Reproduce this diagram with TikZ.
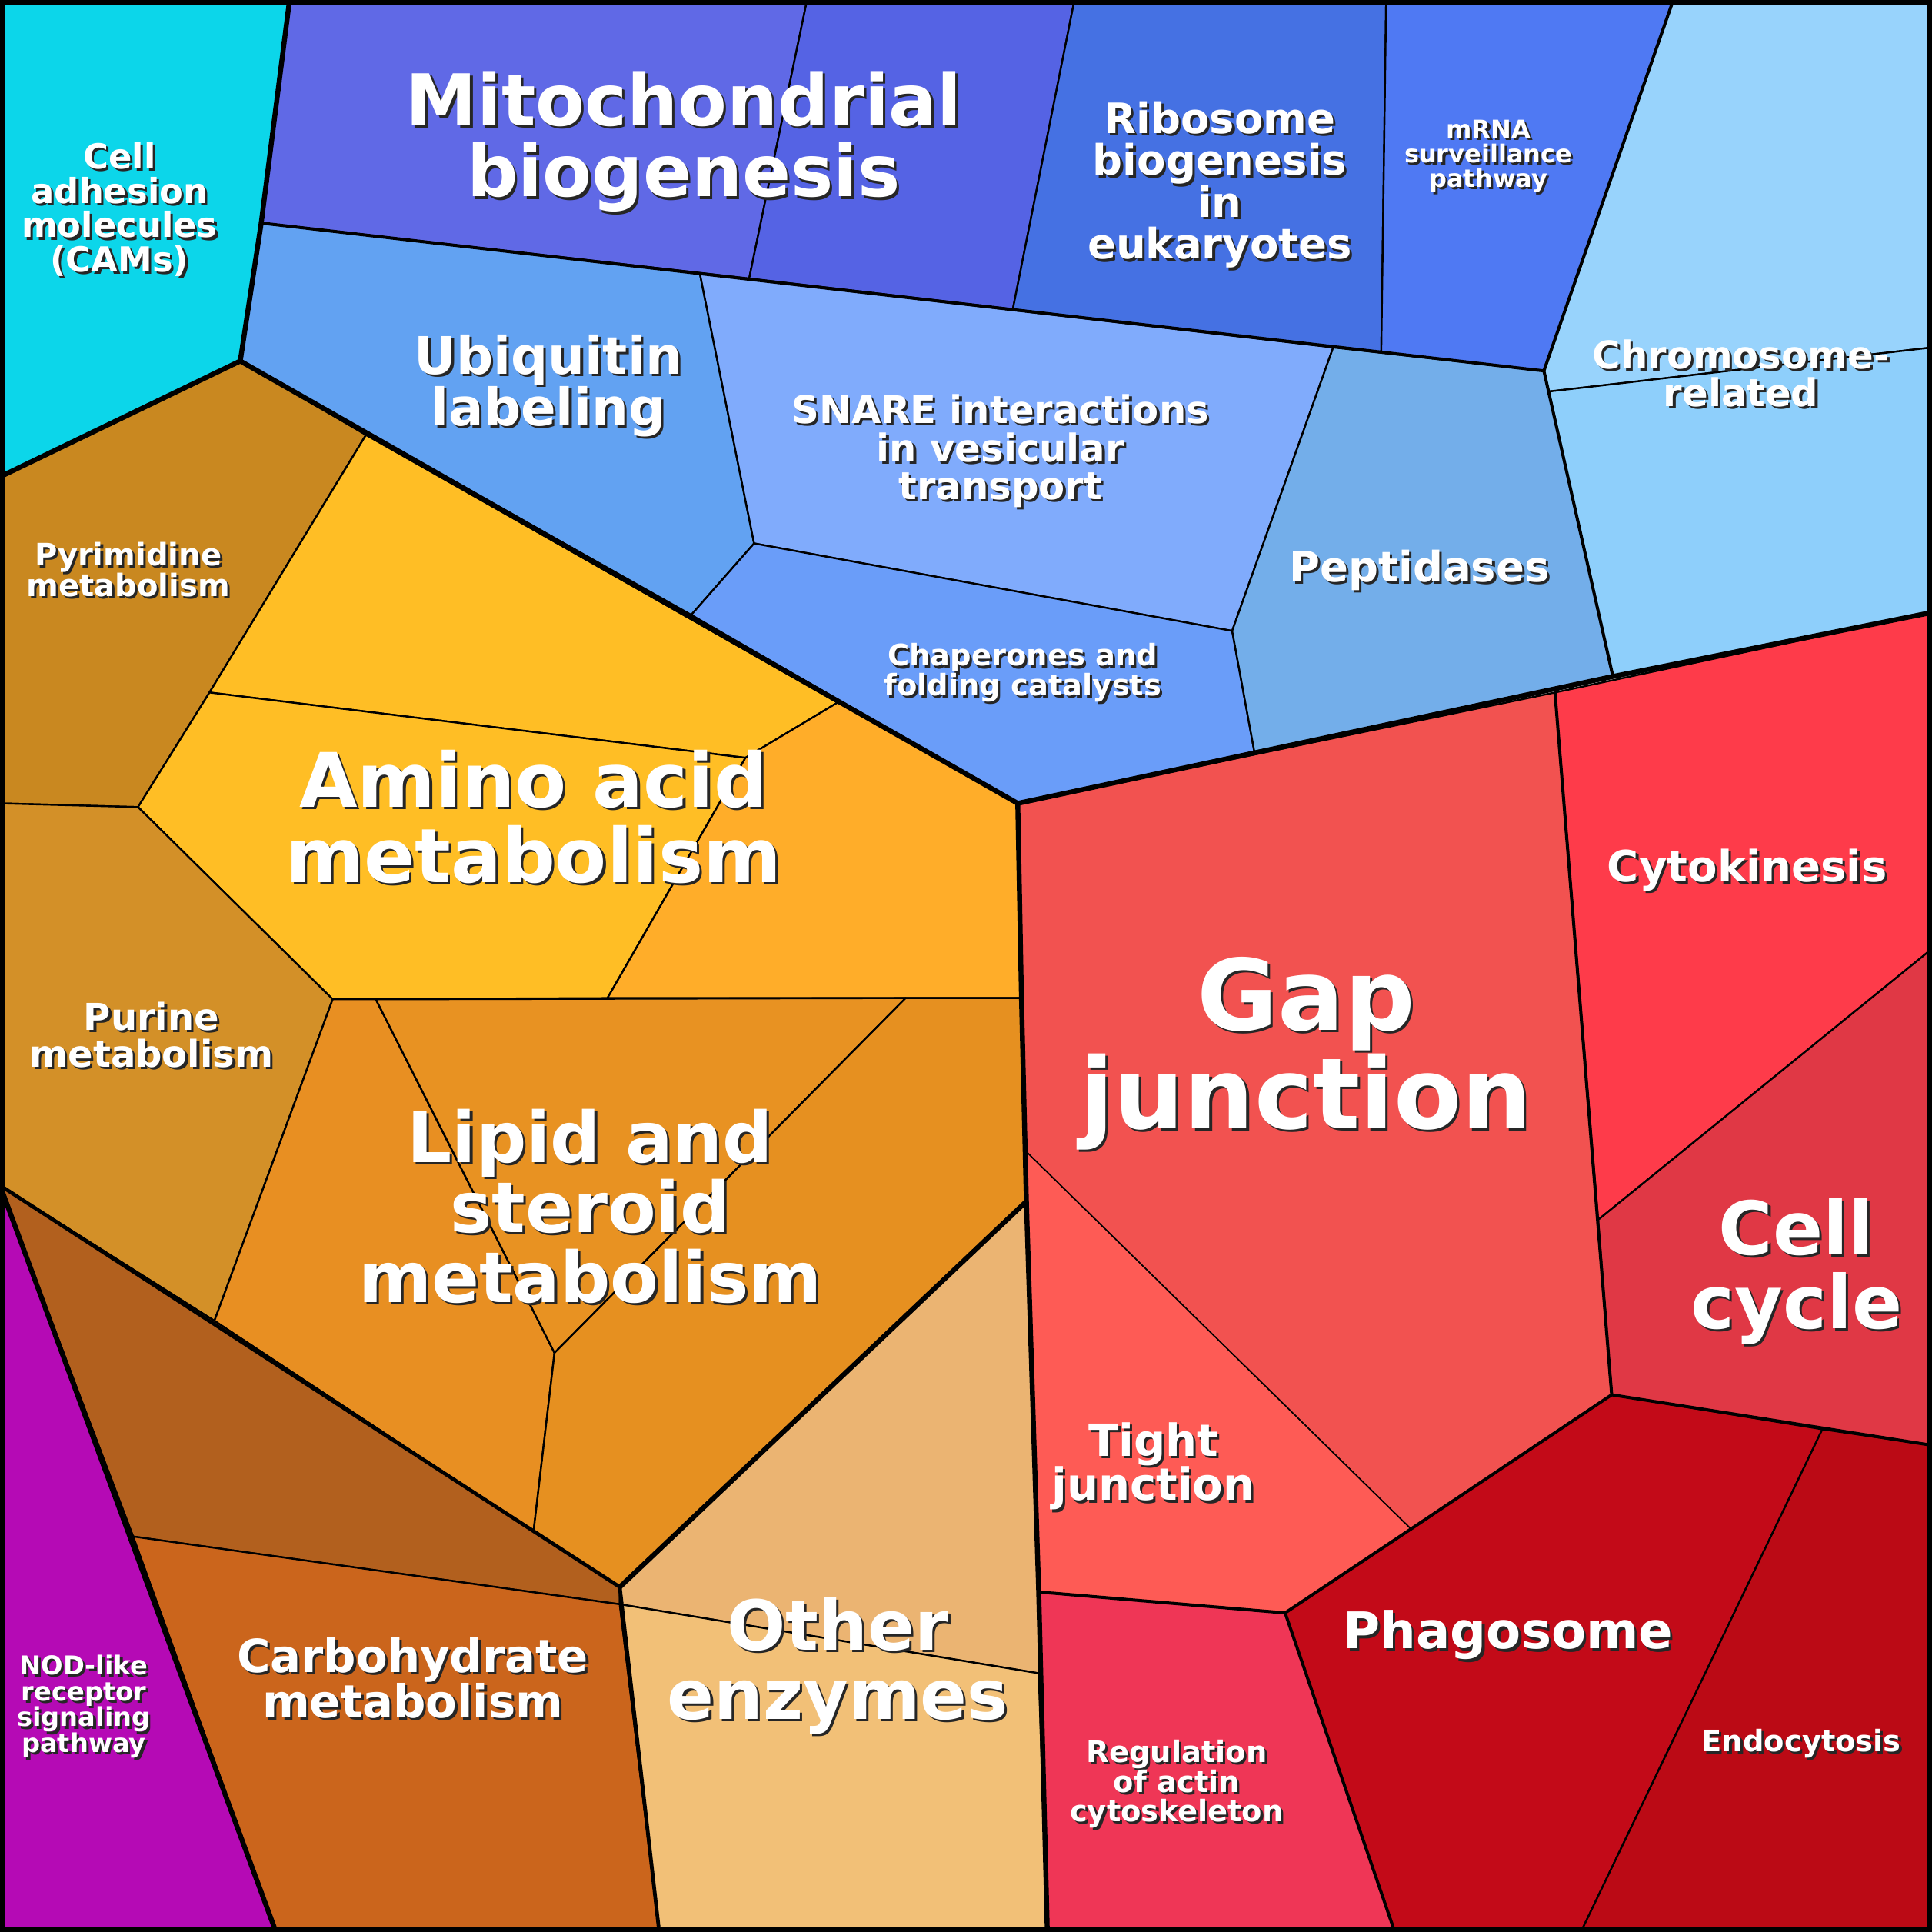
\documentclass[tikz,border=0pt]{standalone}
\usepackage{fontspec}
\setmainfont{DejaVu Sans}
\begin{document}
\begin{tikzpicture}[x=1pt,y=-1pt,
  reg/.style={draw=black,line width=1.5pt,line join=round},
  sub/.style={draw=black,line width=0.7pt},
  grp/.style={draw=black,line width=4pt,line join=round,line cap=round},
  lbl/.style={align=center,inner sep=0pt,font=\bfseries}]
\newcommand\lab[5]{%
  \node[lbl,text=black!85,font=\fontsize{#4}{#4}\selectfont\bfseries] (#1s) at ({#2+2},{#3+2}) {#5};
  \node[lbl,text=white,font=\fontsize{#4}{#4}\selectfont\bfseries] (#1) at (#2,#3) {#5};}
\useasboundingbox (0,0) rectangle (1568,1568);
% top blue group
\fill[reg,fill={rgb,255:red,12;green,214;blue,234}] (0,0)--(235,0)--(212,181)--(195,293)--(0,387)--cycle;
\fill[reg,fill={rgb,255:red,96;green,105;blue,230}] (235,0)--(655,0)--(608,226)--(212,181)--cycle;
\fill[reg,fill={rgb,255:red,85;green,99;blue,228}] (655,0)--(872,0)--(822,251)--(608,226)--cycle;
\fill[reg,fill={rgb,255:red,69;green,113;blue,227}] (872,0)--(1125,0)--(1121,286)--(822,251)--cycle;
\fill[reg,fill={rgb,255:red,79;green,121;blue,243}] (1125,0)--(1358,0)--(1253,301)--(1121,286)--cycle;
\fill[reg,fill={rgb,255:red,152;green,211;blue,252}] (1358,0)--(1568,0)--(1568,282)--(1255,318)--(1253,301)--cycle;
\fill[reg,fill={rgb,255:red,142;green,207;blue,251}] (1255,318)--(1568,282)--(1568,497)--(1309,549)--cycle;
\fill[reg,fill={rgb,255:red,98;green,162;blue,242}] (212,181)--(568,222)--(612,441)--(561,499)--(195,293)--cycle;
\fill[reg,fill={rgb,255:red,128;green,171;blue,252}] (568,222)--(1082,282)--(1000,512)--(612,441)--cycle;
\fill[reg,fill={rgb,255:red,106;green,157;blue,249}] (612,441)--(1000,512)--(1018,610)--(826,652)--(561,499)--cycle;
\fill[reg,fill={rgb,255:red,115;green,174;blue,234}] (1082,282)--(1253,301)--(1309,549)--(1018,610)--(1000,512)--cycle;
% orange group
\fill[reg,fill={rgb,255:red,201;green,136;blue,32}] (0,387)--(195,293)--(297,353)--(170,562)--(112,655)--(0,652)--cycle;
\fill[reg,fill={rgb,255:red,255;green,190;blue,37}] (297,353)--(680,570)--(605,615)--(170,562)--cycle;
\fill[reg,fill={rgb,255:red,255;green,190;blue,37}] (170,562)--(605,615)--(493,810)--(270,811)--(112,655)--cycle;
\fill[reg,fill={rgb,255:red,255;green,173;blue,41}] (680,570)--(826,652)--(829,810)--(493,810)--(605,615)--cycle;
\draw[sub] (170,562)--(605,615)--(680,570) (605,615)--(493,810);
\fill[reg,fill={rgb,255:red,211;green,144;blue,40}] (0,652)--(112,655)--(270,811)--(174,1072)--(0,962)--cycle;
\fill[reg,fill={rgb,255:red,232;green,143;blue,34}] (270,811)--(305,811)--(450,1098)--(433,1243)--(174,1072)--cycle;
\fill[reg,fill={rgb,255:red,232;green,146;blue,34}] (305,811)--(735,810)--(450,1098)--cycle;
\fill[reg,fill={rgb,255:red,230;green,144;blue,32}] (735,810)--(829,810)--(833,975)--(503,1288)--(433,1243)--(450,1098)--cycle;
\draw[sub] (305,811)--(450,1098)--(735,810) (450,1098)--(433,1243);
\fill[reg,fill={rgb,255:red,178;green,96;blue,30}] (0,962)--(174,1072)--(433,1243)--(503,1288)--(503,1302)--(108,1247)--cycle;
\fill[reg,fill={rgb,255:red,203;green,101;blue,28}] (108,1247)--(503,1302)--(535,1568)--(224,1568)--cycle;
\draw[sub] (108,1247)--(503,1302);
\fill[reg,fill={rgb,255:red,181;green,10;blue,181}] (0,962)--(108,1247)--(224,1568)--(0,1568)--cycle;
\fill[reg,fill={rgb,255:red,235;green,180;blue,114}] (503,1288)--(833,975)--(843,1292)--(843,1358)--(503,1302)--cycle;
\fill[reg,fill={rgb,255:red,242;green,192;blue,119}] (503,1302)--(843,1358)--(850,1568)--(535,1568)--cycle;
\draw[sub] (503,1302)--(843,1358);
% red group
\fill[reg,fill={rgb,255:red,242;green,82;blue,80}] (826,652)--(1262,562)--(1297,990)--(1308,1132)--(1145,1241)--(833,935)--(829,810)--cycle;
\fill[reg,fill={rgb,255:red,254;green,91;blue,85},draw=black,line width=0.7pt] (833,935)--(1145,1241)--(1043,1309)--(843,1292)--(833,975)--cycle;
\fill[reg,fill={rgb,255:red,254;green,59;blue,74}] (1262,562)--(1568,497)--(1568,770)--(1297,990)--cycle;
\fill[reg,fill={rgb,255:red,224;green,56;blue,69}] (1297,990)--(1568,770)--(1568,1173)--(1479,1160)--(1308,1132)--cycle;
\fill[reg,fill={rgb,255:red,195;green,10;blue,24}] (1308,1132)--(1479,1160)--(1283,1568)--(1132,1568)--(1043,1309)--(1145,1241)--cycle;
\fill[reg,fill={rgb,255:red,187;green,10;blue,21}] (1479,1160)--(1568,1173)--(1568,1568)--(1283,1568)--cycle;
\fill[reg,fill={rgb,255:red,239;green,54;blue,86}] (843,1292)--(1043,1309)--(1132,1568)--(850,1568)--cycle;
% group borders
\draw[grp] (0,387)--(195,293)--(826,652)--(1309,549)--(1568,497);
\draw[grp] (195,293)--(212,181)--(235,0);
\draw[grp] (826,652)--(829,810)--(833,975)--(843,1292)--(850,1568);
\draw[grp] (833,975)--(503,1288);
\draw[grp] (0,962)--(224,1568);
\draw[line width=3pt] (0,962)--(503,1288)--(535,1568);
\draw[line width=2.5pt] (212,181)--(1253,301)--(1358,0) (1253,301)--(1309,549);
\draw[line width=2.5pt] (1262,562)--(1308,1132) (1043,1309)--(1145,1241)--(1308,1132)--(1568,1173) (1043,1309)--(1132,1568) (843,1292)--(1043,1309);
\draw[line width=8pt] (0,0) rectangle (1568,1568);
% labels
\lab{ca}{97}{170}{28}{Cell\\adhesion\\molecules\\(CAMs)}
\lab{mb}{555}{115}{58}{Mitochondrial\\biogenesis}
\lab{rb}{990}{150}{34}{Ribosome\\biogenesis\\in\\eukaryotes}
\lab{mr}{1208}{127}{20}{mRNA\\surveillance\\pathway}
\lab{cr}{1413}{303}{31}{Chromosome-\\related}
\lab{ub}{445}{313}{42}{Ubiquitin\\labeling}
\lab{sn}{812}{366}{31}{SNARE interactions\\in vesicular\\transport}
\lab{pe}{1152}{463}{34}{Peptidases}
\lab{ch}{830}{546}{24}{Chaperones and\\folding catalysts}
\lab{py}{104}{462}{25}{Pyrimidine\\metabolism}
\lab{aa}{433}{663}{61}{Amino acid\\metabolism}
\lab{pu}{123}{840}{30}{Purine\\metabolism}
\lab{li}{479}{979}{57}{Lipid and\\steroid\\metabolism}
\lab{gj}{1060}{855}{80}{Gap\\junction}
\lab{ck}{1418}{706}{35}{Cytokinesis}
\lab{cc}{1458}{1032}{60}{Cell\\cycle}
\lab{tj}{936}{1190}{36}{Tight\\junction}
\lab{cm}{335}{1362}{37}{Carbohydrate\\metabolism}
\lab{nod}{68}{1385}{21}{NOD-like\\receptor\\signaling\\pathway}
\lab{oe}{680}{1352}{56}{Other\\enzymes}
\lab{ph}{1224}{1327}{41}{Phagosome}
\lab{ra}{955}{1448}{24}{Regulation\\of actin\\cytoskeleton}
\lab{en}{1462}{1415}{24}{Endocytosis}
\end{tikzpicture}
\end{document}
